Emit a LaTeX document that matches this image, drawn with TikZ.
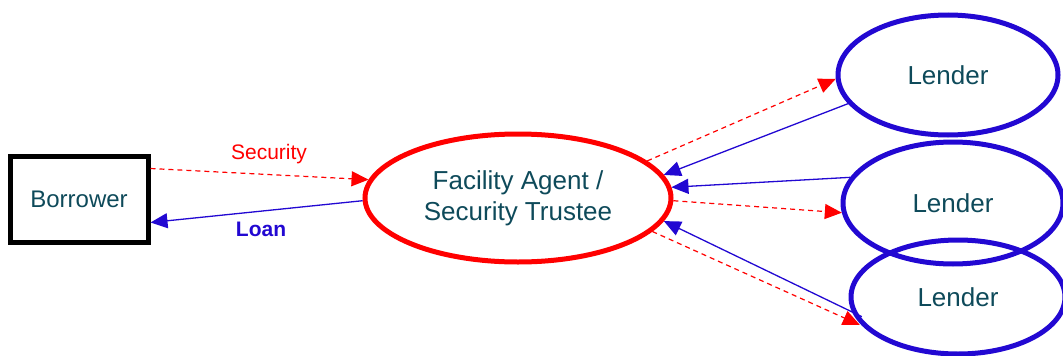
\documentclass[tikz,border=0pt]{standalone}
\usepackage{fontspec}
\setmainfont{Liberation Sans}
\usetikzlibrary{shapes.geometric,arrows.meta,calc}
\definecolor{lblue}{RGB}{34,8,210}
\definecolor{txt}{RGB}{14,74,90}
\definecolor{lred}{RGB}{255,0,0}
\tikzset{
  party/.style={ellipse, draw=lblue, line width=5pt, inner sep=0pt, text=txt, font=\fontsize{26}{30}\selectfont},
  agent/.style={ellipse, draw=lred, line width=5pt, inner sep=0pt, text=txt, align=center, font=\fontsize{26}{31}\selectfont},
  boxnode/.style={rectangle, draw=black, line width=5pt, inner sep=0pt, text=txt, font=\fontsize{24}{28}\selectfont},
  sec/.style={draw=lred, dash pattern=on 5pt off 4pt, line width=1.2pt, -{Triangle[length=17pt,width=15pt,sep=0pt]}},
  money/.style={draw=lblue, line width=1.3pt, -{Triangle[length=17pt,width=15pt]}},
  lbl/.style={inner sep=0pt, font=\fontsize{21}{24}\selectfont}
}
\begin{document}
\begin{tikzpicture}[x=1pt,y=-1pt]
\useasboundingbox (0,0) rectangle (1063,356);
\node[boxnode, minimum width=138pt, minimum height=86pt] (bor) at (79,199) {Borrower};
\node[agent, minimum width=306pt, minimum height=128pt] (fa) at (518,198) {Facility Agent /\\Security Trustee};
\node[party, minimum width=220pt, minimum height=120pt] (l1) at (948,75) {Lender};
\node[party, minimum width=220pt, minimum height=122pt] (l2) at (953,203) {Lender};
\node[party, minimum width=214pt, minimum height=114pt] (l3) at (958,297) {Lender};
\node[lbl, text=lred] (seclbl) at (269,154) {Security};
\node[lbl, text=lblue, font=\fontsize{21}{24}\selectfont\bfseries] (loanlbl) at (261,229) {Loan};
% borrower <-> agent
\draw[sec] ($(bor.north east)+(0,15)$) -- (fa.173);
\draw[money] (fa.181) -- ($(bor.south east)+(0,-22)$);
% agent <-> lenders
\draw[sec] (fa.16) -- (l1.182);
\draw[money] (l1.196) -- (fa.9);
\draw[money] (l2.166) -- (fa.4);
\draw[sec] (fa.-1) -- (l2.185);
\draw[money, shorten <=-11pt] (l3.188) -- (fa.-9);
\draw[sec, shorten >=3pt] (fa.-14) -- (l3.197);
\end{tikzpicture}
\end{document}
